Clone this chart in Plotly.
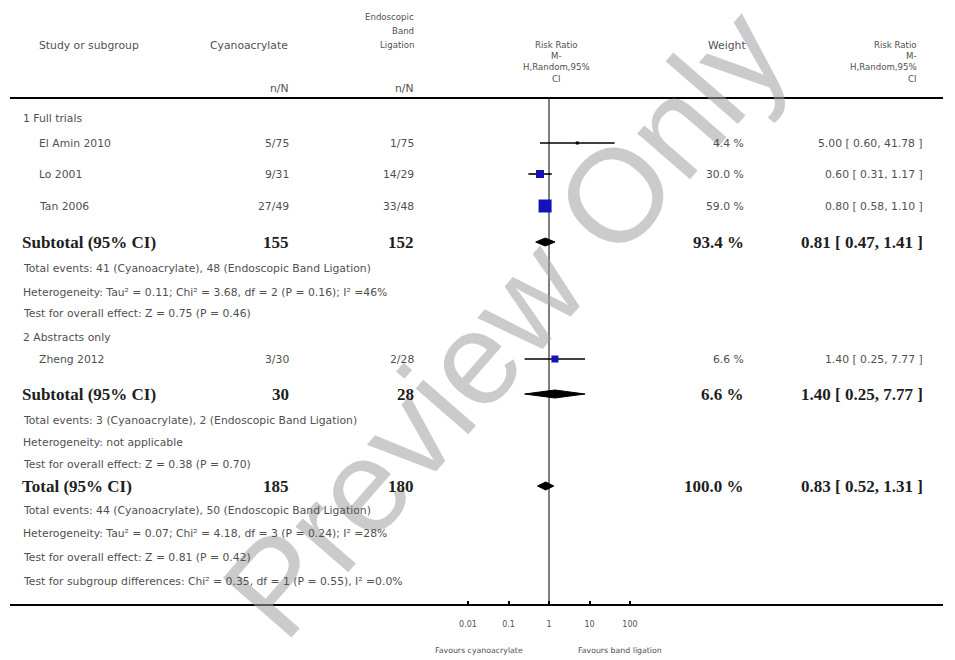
import plotly.graph_objects as go

# ---------------- data ----------------
studies = ["El Amin 2010", "Lo 2001", "Tan 2006", "Zheng 2012"]
events_c = [5, 9, 27, 3]
total_c = [75, 31, 49, 30]
events_b = [1, 14, 33, 2]
total_b = [75, 29, 48, 28]
rr = [5.00, 0.60, 0.80, 1.40]
rr_lo = [0.60, 0.31, 0.58, 0.25]
rr_hi = [41.78, 1.17, 1.10, 7.77]
weights = [4.4, 30.0, 59.0, 6.6]

pooled_labels = ["Subtotal (95% CI)", "Subtotal (95% CI)", "Total (95% CI)"]
pooled_nc = [155, 30, 185]
pooled_nb = [152, 28, 180]
pooled_rr = [0.81, 1.40, 0.83]
pooled_lo = [0.47, 0.25, 0.52]
pooled_hi = [1.41, 7.77, 1.31]
pooled_w = [93.4, 6.6, 100.0]

tick_vals = [0.01, 0.1, 1, 10, 100]
tick_text = ["0.01", "0.1", "1", "10", "100"]

# ---------------- layout / style ----------------
W, H = 955, 660
study_y = [143, 174, 206, 359]
pooled_y = [242, 394, 486]
square_px = [3, 8, 13, 7]
SQ_COLOR = "#1212b8"
GRAY = "#505050"
DARK = "#1e1e1e"
SANS = "DejaVu Sans"
SERIF = "Liberation Serif"
BODY = 10.8
ONE_PX, DECADE_PX = 549, 40.5
PLOT_L, PLOT_R = 430, 700
AXIS_Y = 605
TOP_Y = 98

fig = go.Figure()

# CI lines and squares
for i in range(len(studies)):
    fig.add_trace(go.Scatter(x=[rr_lo[i], rr_hi[i]], y=[study_y[i], study_y[i]], mode="lines",
                             line=dict(color="black", width=1.6), hoverinfo="skip", showlegend=False))
for i in range(len(studies)):
    fig.add_trace(go.Scatter(x=[rr[i]], y=[study_y[i]], mode="markers",
                             marker=dict(symbol="square", size=square_px[i],
                                         color=SQ_COLOR if square_px[i] > 4 else "black",
                                         line=dict(width=0)),
                             hoverinfo="skip", showlegend=False))
# diamonds
DH = 4
for j in range(len(pooled_rr)):
    yc = pooled_y[j]
    fig.add_trace(go.Scatter(x=[pooled_lo[j], pooled_rr[j], pooled_hi[j], pooled_rr[j], pooled_lo[j]],
                             y=[yc, yc - DH, yc, yc + DH, yc], mode="lines", fill="toself",
                             fillcolor="black", line=dict(color="black", width=1),
                             hoverinfo="skip", showlegend=False))

ann = []
# watermark
ann.append(dict(text="Preview Only", x=505 / W, y=322, xref="paper", yref="y",
                showarrow=False, textangle=-49,
                font=dict(family="Liberation Sans", size=132, color="rgba(160,160,160,0.55)"),
                xanchor="center", yanchor="middle"))


def txt(x, y, s, anchor="left", size=BODY, color=GRAY, family=SANS, yanchor="middle"):
    ann.append(dict(text=s, x=x / W, y=y, xref="paper", yref="y", showarrow=False,
                    xanchor=anchor, yanchor=yanchor, align=anchor if anchor != "middle" else "center",
                    borderpad=0,
                    font=dict(family=family, size=size, color=color)))


def btxt(x, y, s, anchor="left", size=17):
    txt(x, y, "<b>" + s + "</b>", anchor, size, DARK, SERIF)


# header
HDR = 8.6
txt(38, 45, "Study or subgroup")
txt(289, 45, "Cyanoacrylate", "right")
txt(415, 17, "Endoscopic", "right", size=HDR)
txt(415, 31, "Band", "right", size=HDR)
txt(415, 45, "Ligation", "right", size=HDR)
txt(290, 88, "n/N", "right")
txt(415, 88, "n/N", "right")
txt(556, 39, "Risk Ratio<br>M-<br>H,Random,95%<br>CI", "center", size=HDR, yanchor="top")
txt(727, 45, "Weight", "center")
txt(918, 39, "Risk Ratio<br>M-<br>H,Random,95%<br>CI", "right", size=HDR, yanchor="top")

# subgroup rows
txt(22, 118, "1 Full trials")
for i in range(4):
    txt(38, study_y[i], studies[i])
    txt(290, study_y[i], f"{events_c[i]}/{total_c[i]}", "right")
    txt(415, study_y[i], f"{events_b[i]}/{total_b[i]}", "right")
    txt(745, study_y[i], f"{weights[i]:.1f} %", "right")
    txt(924, study_y[i], f"{rr[i]:.2f} [ {rr_lo[i]:.2f}, {rr_hi[i]:.2f} ]", "right")

for j in range(3):
    y = pooled_y[j]
    btxt(21, y, pooled_labels[j])
    btxt(290, y, str(pooled_nc[j]), "right")
    btxt(415, y, str(pooled_nb[j]), "right")
    btxt(745, y, f"{pooled_w[j]:.1f} %", "right")
    btxt(924, y, f"{pooled_rr[j]:.2f} [ {pooled_lo[j]:.2f}, {pooled_hi[j]:.2f} ]", "right")

txt(22, 268, "Total events: 41 (Cyanoacrylate), 48 (Endoscopic Band Ligation)")
txt(22, 292, "Heterogeneity: Tau² = 0.11; Chi² = 3.68, df = 2 (P = 0.16); I² =46%")
txt(22, 313, "Test for overall effect: Z = 0.75 (P = 0.46)")
txt(22, 337, "2 Abstracts only")
txt(22, 420, "Total events: 3 (Cyanoacrylate), 2 (Endoscopic Band Ligation)")
txt(22, 442, "Heterogeneity: not applicable")
txt(22, 464, "Test for overall effect: Z = 0.38 (P = 0.70)")
txt(22, 510, "Total events: 44 (Cyanoacrylate), 50 (Endoscopic Band Ligation)")
txt(22, 533, "Heterogeneity: Tau² = 0.07; Chi² = 4.18, df = 3 (P = 0.24); I² =28%")
txt(22, 557, "Test for overall effect: Z = 0.81 (P = 0.42)")
txt(22, 581, "Test for subgroup differences: Chi² = 0.35, df = 1 (P = 0.55), I² =0.0%")

txt(479, 650, "Favours cyanoacrylate", "center", size=7.8)
txt(620, 650, "Favours band ligation", "center", size=7.8)

shapes = [
    dict(type="line", xref="paper", yref="y", x0=10 / W, x1=943 / W, y0=TOP_Y, y1=TOP_Y,
         line=dict(color="black", width=2)),
    dict(type="line", xref="paper", yref="y", x0=10 / W, x1=943 / W, y0=AXIS_Y, y1=AXIS_Y,
         line=dict(color="black", width=2)),
    dict(type="line", xref="x", yref="y", x0=1, x1=1, y0=TOP_Y, y1=AXIS_Y,
         line=dict(color="#555555", width=1.5), layer="below"),
]

fig.update_layout(
    width=W, height=H, margin=dict(l=0, r=0, t=0, b=0),
    paper_bgcolor="white", plot_bgcolor="rgba(0,0,0,0)",
    showlegend=False, annotations=ann, shapes=shapes,
    xaxis=dict(type="log", domain=[PLOT_L / W, PLOT_R / W],
               range=[(PLOT_L - ONE_PX) / DECADE_PX, (PLOT_R - ONE_PX) / DECADE_PX],
               anchor="free", position=(H - AXIS_Y) / H,
               tickvals=tick_vals, ticktext=tick_text, ticks="inside", ticklen=4,
               tickwidth=1.5, tickcolor="black", showgrid=False, zeroline=False,
               showline=False, ticklabelstandoff=13,
               tickfont=dict(family=SANS, size=8, color=GRAY)),
    yaxis=dict(range=[H, 0], domain=[0, 1], visible=False, showgrid=False),
)

fig.write_html("out.html")
